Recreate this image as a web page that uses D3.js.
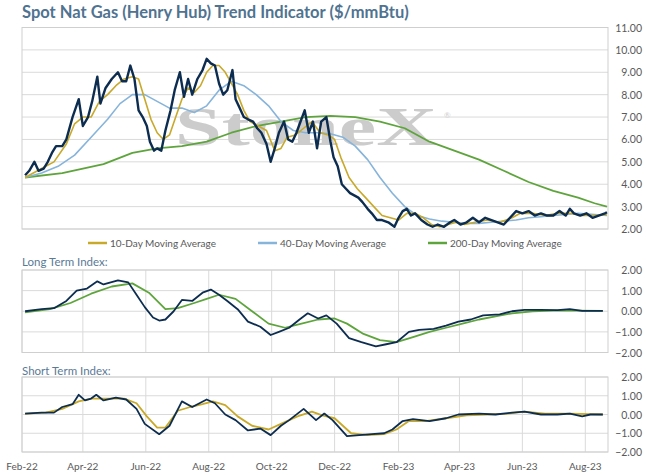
<!DOCTYPE html>
<html><head><meta charset="utf-8">
<script src="https://cdn.jsdelivr.net/npm/d3@7"></script>
<style>body{margin:0;background:#fff}text{font-family:Lato,"Open Sans",sans-serif}</style>
</head><body>
<script>
// day offsets from 1 Feb 2022
var spotDays = [3,7,12,16,21,25,29,33,39,43,49,55,59,64,68,73,76,81,87,93,97,101,105,109,113,117,121,124,128,131,135,139,144,148,153,157,161,165,170,175,179,183,187,191,195,199,204,207,211,215,219,224,228,232,237,241,245,249,254,258,262,266,270,274,278,282,286,290,295,299,302,306,310,314,318,322,326,330,335,339,344,349,355,361,365,369,373,377,381,387,393,398,403,409,415,419,425,431,437,443,449,455,461,467,473,479,485,491,497,503,509,515,521,527,531,535,541,547,553,559,565,567];
var spotVals = [4.4,4.6,5.0,4.6,4.7,5.0,5.4,5.7,5.7,6.0,7.0,7.8,6.6,7.0,7.7,8.8,7.6,8.3,8.7,9.0,8.6,8.6,9.3,8.7,7.3,7.0,6.6,5.9,5.5,5.6,5.5,6.4,7.3,8.2,9.0,7.9,8.7,8.0,8.7,9.1,9.6,9.4,9.3,8.5,8.0,8.2,9.1,7.8,7.4,7.0,6.9,6.8,6.5,6.3,5.8,5.0,5.6,6.3,6.8,6.0,5.9,6.3,6.8,7.3,6.3,6.8,5.6,6.8,7.0,5.9,5.2,4.8,4.0,3.8,3.6,3.5,3.4,3.2,2.9,2.7,2.4,2.4,2.3,2.1,2.5,2.8,2.9,2.6,2.7,2.4,2.2,2.1,2.2,2.1,2.3,2.4,2.2,2.3,2.5,2.3,2.5,2.4,2.3,2.2,2.5,2.8,2.7,2.8,2.6,2.7,2.6,2.6,2.8,2.6,2.9,2.7,2.6,2.7,2.5,2.6,2.7,2.75];
var ma10Days = [3,19,31,43,51,59,67,75,83,91,99,107,113,119,125,131,137,143,149,155,161,167,173,179,185,191,197,203,209,215,221,229,237,245,251,257,265,273,281,289,297,303,309,317,325,333,341,349,357,365,373,381,389,397,405,413,421,429,439,451,463,475,483,495,507,519,531,543,555,567];
var ma10Vals = [4.3,4.7,5.0,5.8,6.7,7.0,7.0,7.7,8.0,8.4,8.7,8.8,8.7,7.8,6.9,6.3,6.0,6.2,7.0,7.8,8.3,8.1,8.4,9.0,9.3,9.3,9.0,8.5,8.0,7.3,6.8,6.6,6.4,5.5,5.6,6.1,6.2,6.5,6.8,6.3,6.2,6.0,5.2,4.3,3.8,3.4,3.0,2.6,2.5,2.4,2.7,2.7,2.5,2.2,2.1,2.2,2.3,2.2,2.3,2.4,2.3,2.5,2.7,2.7,2.6,2.7,2.7,2.6,2.6,2.65];
var ma40Days = [3,19,35,51,67,83,95,107,119,131,143,155,167,179,191,203,215,227,239,251,263,275,287,299,311,323,335,347,359,371,383,395,407,419,431,443,455,467,479,491,503,515,527,539,555,567];
var ma40Vals = [4.3,4.5,4.8,5.3,6.1,6.9,7.6,8.0,8.0,7.7,7.4,7.4,7.2,7.5,8.2,8.6,8.4,8.0,7.5,6.8,6.4,6.3,6.3,6.25,6.1,5.7,5.1,4.3,3.6,3.0,2.6,2.45,2.35,2.3,2.25,2.25,2.3,2.35,2.4,2.5,2.55,2.6,2.65,2.7,2.65,2.6];
var ma200Days = [3,39,79,107,131,155,179,203,227,251,275,299,323,347,371,395,419,443,467,491,515,539,555,567];
var ma200Vals = [4.3,4.5,4.9,5.4,5.6,5.7,5.9,6.3,6.6,6.8,7.0,7.05,7.0,6.8,6.5,5.9,5.5,5.1,4.6,4.1,3.7,3.4,3.15,3.0];

var longDays = [3,19,31,43,53,63,73,79,93,103,111,119,127,133,139,147,155,165,175,183,191,199,209,219,231,241,249,259,269,277,287,295,305,317,329,343,353,363,375,385,399,411,423,435,447,463,475,487,503,519,531,543,563];
var longVals = [0.0,0.1,0.15,0.5,1.0,1.1,1.45,1.3,1.5,1.4,0.8,0.2,-0.3,-0.45,-0.4,0.0,0.55,0.5,0.9,1.05,0.8,0.5,0.1,-0.5,-0.75,-1.15,-1.0,-0.8,-0.4,-0.1,-0.35,-0.2,-0.6,-1.3,-1.5,-1.7,-1.6,-1.5,-1.0,-0.9,-0.85,-0.7,-0.5,-0.4,-0.2,-0.15,0.0,0.07,0.07,0.05,0.1,0.02,0.02];
var longSigDays = [3,27,47,67,87,107,123,139,151,167,179,191,207,223,239,255,271,287,303,315,331,347,363,379,395,411,427,443,459,475,495,515,539,563];
var longSigVals = [-0.05,0.1,0.4,0.85,1.2,1.35,0.9,0.1,0.15,0.4,0.6,0.8,0.6,0.0,-0.6,-0.8,-0.6,-0.4,-0.35,-0.6,-1.1,-1.4,-1.5,-1.25,-1.0,-0.8,-0.6,-0.4,-0.25,-0.1,0.0,0.03,0.03,0.02];
var shortDays = [3,19,31,39,49,55,61,67,72,79,91,101,111,119,133,143,155,165,179,187,197,207,219,231,241,251,259,273,285,293,301,315,327,339,351,359,369,379,395,411,423,443,459,475,487,503,519,531,543,551,563];
var shortVals = [0.05,0.1,0.1,0.4,0.55,1.05,0.75,0.85,1.05,0.75,0.9,0.8,0.3,-0.5,-1.05,-0.6,0.7,0.4,0.8,0.6,0.0,-0.3,-0.85,-0.75,-1.1,-0.6,-0.3,0.3,-0.3,0.05,-0.3,-1.15,-1.1,-1.05,-1.0,-0.8,-0.35,-0.25,-0.35,-0.2,0.0,0.05,0.0,0.1,0.15,0.0,0.0,0.05,-0.1,0.0,0.0];
var shortSigDays = [3,23,39,55,67,83,99,111,121,131,139,151,163,175,185,197,209,223,239,251,267,281,291,303,319,335,351,363,375,391,411,431,451,471,487,507,531,563];
var shortSigVals = [0.05,0.1,0.3,0.7,0.85,0.85,0.85,0.6,-0.1,-0.7,-0.7,0.2,0.4,0.55,0.7,0.5,-0.1,-0.6,-0.8,-0.5,-0.1,0.15,-0.05,-0.2,-1.0,-1.1,-1.05,-0.8,-0.35,-0.35,-0.2,-0.05,0.0,0.05,0.15,0.05,0.05,0.0];

var priceTicks = [2,3,4,5,6,7,8,9,10,11];
var indexTicks = [-2,-1,0,1,2];
var monthTicks = ["2022-02-01","2022-04-01","2022-06-01","2022-08-01","2022-10-01","2022-12-01","2023-02-01","2023-04-01","2023-06-01","2023-08-01"];
var legendNames = ["10-Day Moving Average","40-Day Moving Average","200-Day Moving Average"];

var navy = "#0d2d50", gold = "#c8a92a", blue = "#86b4da", green = "#5ea43c";
var start = new Date(2022,1,1);
function toDate(d){ return d3.timeDay.offset(start, d); }
function series(days, vals){ return days.map(function(d,i){ return [toDate(d), vals[i]]; }); }

var svg = d3.select("body").append("svg").attr("width",646).attr("height",475);
var x = d3.scaleTime().domain([start, toDate(568)]).range([22,608]);

svg.append("text").attr("x",22).attr("y",18).attr("fill","#4f7390")
  .style("font-size","16.5px").style("font-weight","bold")
  .text("Spot Nat Gas (Henry Hub) Trend Indicator ($/mmBtu)");

function panel(y, ticks, vgrid){
  var g = svg.append("g");
  g.selectAll(".gl").data(ticks).enter().append("line")
    .attr("x1",22).attr("x2",608).attr("y1",y).attr("y2",y)
    .attr("stroke","#dadada").attr("stroke-width",1);
  if (vgrid) {
    g.selectAll(".vl").data(monthTicks).enter().append("line")
      .attr("x1",function(d){return x(new Date(d));}).attr("x2",function(d){return x(new Date(d));})
      .attr("y1",y.range()[1]).attr("y2",y.range()[0]).attr("stroke","#dadada");
  }
  g.append("rect").attr("x",22).attr("y",y.range()[1]).attr("width",586)
    .attr("height",y.range()[0]-y.range()[1]).attr("fill","none").attr("stroke","#cfcfcf");
  g.selectAll(".tl").data(ticks).enter().append("text")
    .attr("x",642).attr("y",function(d){return y(d)+4;}).attr("text-anchor","end")
    .attr("fill","#595959").style("font-size","10.5px")
    .text(function(d){return d3.format(".2f")(d);});
  return g;
}
function line(y, data, color, w){
  svg.append("path").datum(data).attr("fill","none").attr("stroke",color)
    .attr("stroke-width",w).attr("stroke-linejoin","round")
    .attr("d", d3.line().x(function(d){return x(d[0]);}).y(function(d){return y(d[1]);}));
}

// top panel
var yP = d3.scaleLinear().domain([2,11]).range([229,27.5]);
panel(yP, priceTicks, false);
svg.append("text").attr("x",175).attr("y",145).attr("textLength",262).attr("lengthAdjust","spacingAndGlyphs")
  .attr("fill","#cccccc").style("font-family","'Liberation Serif',serif")
  .style("font-size","54px").style("font-weight","bold").text("StoneX");
svg.append("text").attr("x",444).attr("y",118).attr("fill","#d0d0d0").style("font-size","8px").text("®");
line(yP, series(ma200Days, ma200Vals), green, 1.8);
line(yP, series(ma40Days, ma40Vals), blue, 1.6);
line(yP, series(ma10Days, ma10Vals), gold, 1.6);
line(yP, series(spotDays, spotVals), navy, 2.4);

var legColors = [gold, blue, green], legX = [88, 258, 428];
legendNames.forEach(function(n,i){
  svg.append("line").attr("x1",legX[i]).attr("x2",legX[i]+19).attr("y1",243).attr("y2",243)
    .attr("stroke",legColors[i]).attr("stroke-width",2.5);
  svg.append("text").attr("x",legX[i]+22).attr("y",247).attr("fill","#595959")
    .style("font-size","10px").text(n);
});

// long term
svg.append("text").attr("x",22).attr("y",266).attr("fill","#5a7a96").style("font-size","11.5px").text("Long Term Index:");
var yL = d3.scaleLinear().domain([-2,2]).range([352.5,270]);
panel(yL, indexTicks, true);
line(yL, series(longSigDays, longSigVals), green, 1.8);
line(yL, series(longDays, longVals), navy, 1.8);

// short term
svg.append("text").attr("x",22).attr("y",375).attr("fill","#5a7a96").style("font-size","11.5px").text("Short Term Index:");
var yS = d3.scaleLinear().domain([-2,2]).range([452,377]);
panel(yS, indexTicks, true);
line(yS, series(shortSigDays, shortSigVals), gold, 1.8);
line(yS, series(shortDays, shortVals), navy, 1.8);

svg.selectAll(".mt").data(monthTicks).enter().append("text")
  .attr("x",function(d){return x(new Date(d));}).attr("y",470).attr("text-anchor","middle")
  .attr("fill","#595959").style("font-size","10px")
  .text(function(d){return d3.timeFormat("%b-%y")(new Date(d));});
</script>
</body></html>
